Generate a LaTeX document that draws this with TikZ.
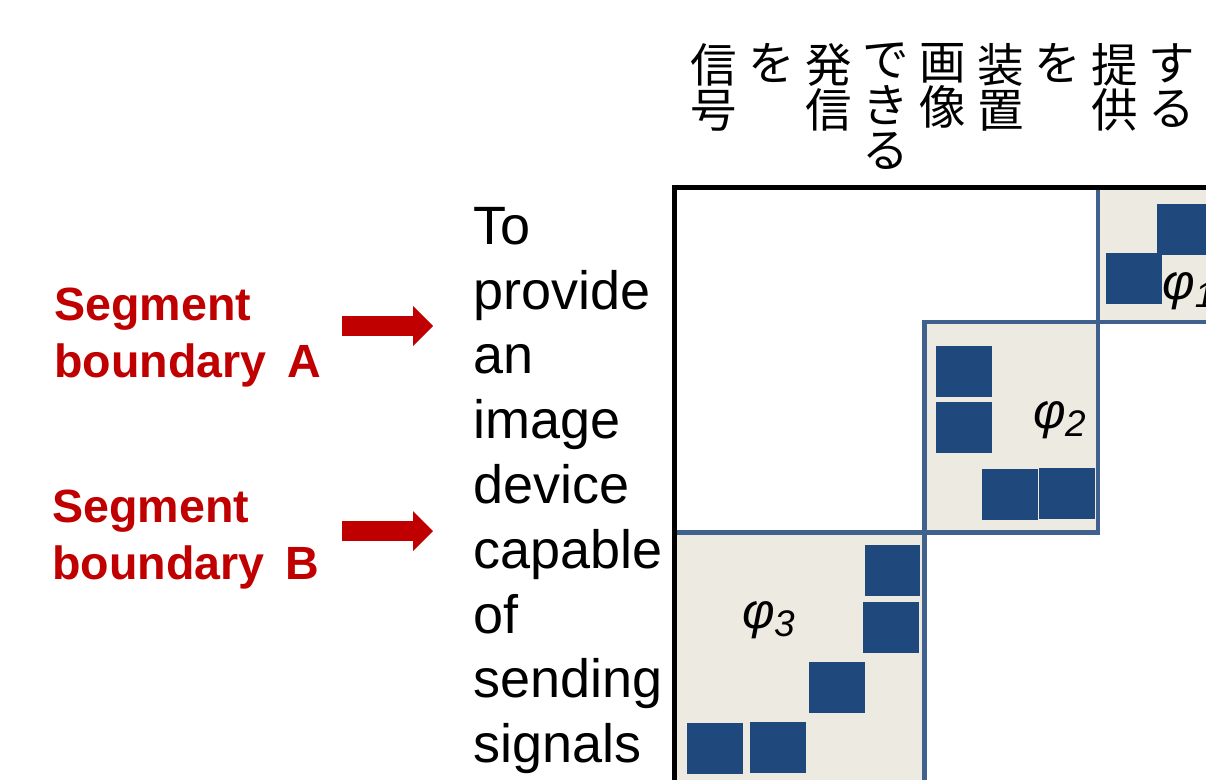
\documentclass[tikz,border=0pt]{standalone}
\usepackage{fontspec}
\setmainfont{Liberation Sans}
\newfontfamily\cjk{Noto Sans CJK JP}
\usetikzlibrary{arrows.meta}
\definecolor{segred}{RGB}{192,0,0}
\definecolor{beige}{RGB}{236,234,225}
\definecolor{gridblue}{RGB}{64,96,142}
\definecolor{sqblue}{RGB}{31,73,125}
\tikzset{
  sq/.style={fill=sqblue, draw=none, minimum width=55.5pt, minimum height=51pt, inner sep=0pt},
  blk/.style={fill=beige, draw=none},
  gline/.style={draw=gridblue, line width=4.5pt},
  frameline/.style={draw=black, line width=5pt},
  jcol/.style={font=\cjk\fontsize{46.5}{45.5}\selectfont, align=center, anchor=north, inner sep=0pt},
  seglab/.style={font=\bfseries\fontsize{46.6}{57}\selectfont, text=segred, align=left, anchor=north west, inner sep=0pt},
  segarrow/.style={draw=segred, line width=20pt, -{Triangle[length=20pt,width=40pt,line width=0pt]}},
  philab/.style={font=\itshape\fontsize{50}{50}\selectfont, anchor=base west, inner sep=0pt}
}
\begin{document}
\setlength{\lineskiplimit}{-100pt}
\begin{tikzpicture}[x=1pt,y=-1pt]
\useasboundingbox (0,0) rectangle (1206,779);
\clip (0,0) rectangle (1206,779);
% blocks
\fill[blk] (1098,188) rectangle (1215,322);
\fill[blk] (924.5,322) rectangle (1098,532.5);
\fill[blk] (674.5,532.5) rectangle (924.5,790);
% grid lines
\draw[gline] (1098,186) -- (1098,535);
\draw[gline] (922,322) -- (1215,322);
\draw[gline] (924.5,320) -- (924.5,790);
\draw[gline] (674.5,532.5) -- (1100,532.5);
% frame
\draw[frameline] (674.5,790) -- (674.5,187.5) -- (1215,187.5);
% squares phi1
\node[sq] (s11) at (1185,229.5) {};
\node[sq] (s12) at (1134,278) {};
% squares phi2
\node[sq] (s21) at (964,371.5) {};
\node[sq] (s22) at (964,427.5) {};
\node[sq] (s23) at (1010,494.5) {};
\node[sq] (s24) at (1067,493.5) {};
% squares phi3
\node[sq] (s31) at (892.5,570.5) {};
\node[sq] (s32) at (891,627.5) {};
\node[sq] (s33) at (837,687.5) {};
\node[sq] (s34) at (715,748.5) {};
\node[sq] (s35) at (778,747.5) {};
% phi labels
\node[philab] (p1) at (1162,299.5) {φ\raisebox{-8pt}{\fontsize{36}{36}\selectfont 1}};
\node[philab] (p2) at (1033,428) {φ\raisebox{-8pt}{\fontsize{37}{37}\selectfont 2}};
\node[philab] (p3) at (742,628) {φ\raisebox{-8pt}{\fontsize{37}{37}\selectfont 3}};
% Japanese columns
\node[jcol] (j1) at (714,43) {信\\号};
\node[jcol] (j2) at (771.25,43) {を};
\node[jcol] (j3) at (828.5,43) {発\\信};
\node[jcol] (j4) at (885.75,43) {で\\き\\る};
\node[jcol] (j5) at (943,43) {画\\像};
\node[jcol] (j6) at (1000.25,43) {装\\置};
\node[jcol] (j7) at (1057.5,43) {を};
\node[jcol] (j8) at (1114.75,43) {提\\供};
\node[jcol] (j9) at (1172,43) {す\\る};
% English column
\node[font=\fontsize{54}{64.8}\selectfont, align=left, anchor=north west, inner sep=0pt] (en) at (473,207)
  {To\\provide\\an\\image\\device\\capable\\of\\sending\\signals};
% segment labels
\node[seglab] (la) at (54,288) {Segment\\boundary\hspace{21pt}A};
\node[seglab] (lb) at (52,490) {Segment\\boundary\hspace{21pt}B};
% arrows
\coordinate (aas) at (342,326);
\coordinate (aae) at (433,326);
\coordinate (abs) at (342,531);
\coordinate (abe) at (433,531);
\draw[segarrow] (aas) -- (aae);
\draw[segarrow] (abs) -- (abe);
\end{tikzpicture}
\end{document}
